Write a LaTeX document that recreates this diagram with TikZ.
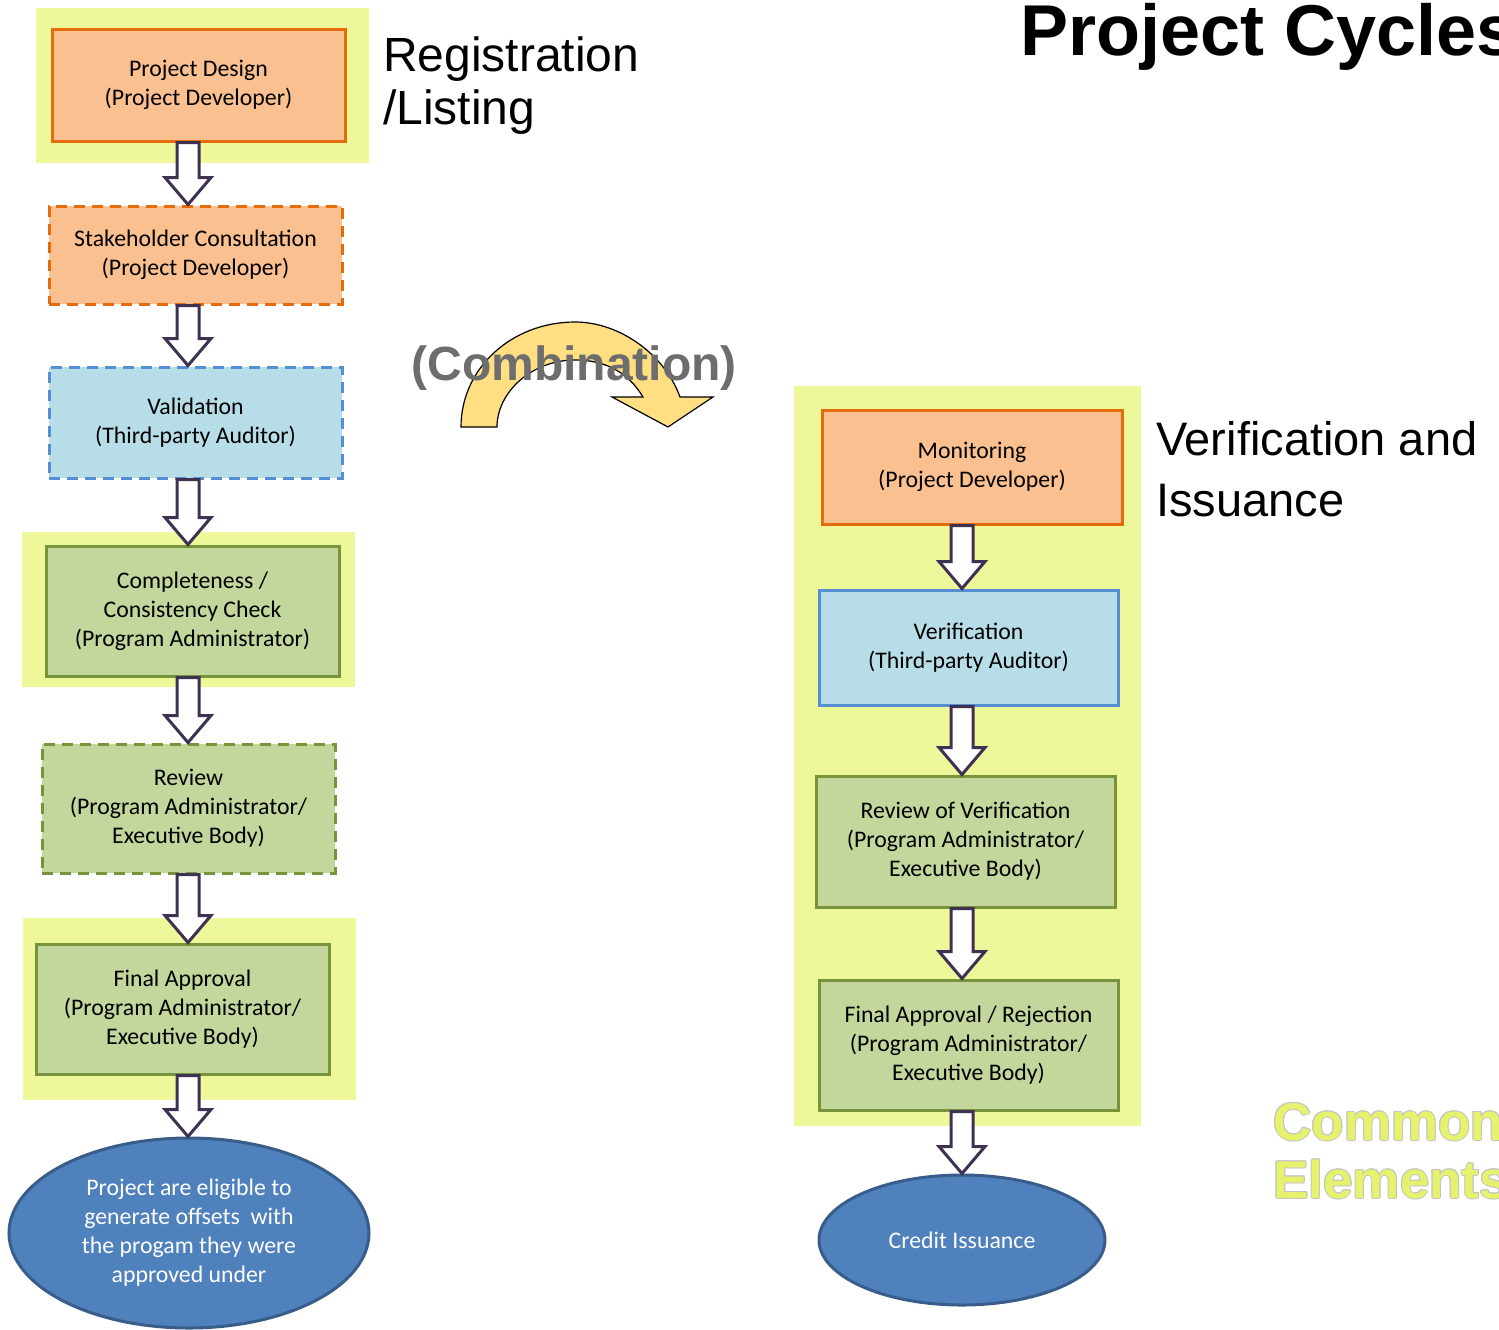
\documentclass[tikz,border=0pt]{standalone}
\usepackage{fontspec}
\setmainfont{Carlito}
\newfontfamily\arialfont{Liberation Sans}
\usetikzlibrary{calc,shapes.geometric}
\definecolor{CycOrange}{HTML}{FAC090}
\definecolor{CycOrangeLine}{HTML}{E46C0A}
\definecolor{CycBlue}{HTML}{B7DDE8}
\definecolor{CycBlueLine}{HTML}{558ED5}
\definecolor{CycGreen}{HTML}{C3D69B}
\definecolor{CycGreenLine}{HTML}{77933C}
\definecolor{CycBand}{HTML}{EEF799}
\definecolor{CycOval}{HTML}{4F81BD}
\definecolor{CycOvalLine}{HTML}{385D8A}
\definecolor{CycArrow}{HTML}{3F3151}
\definecolor{CycGold}{HTML}{FFDF82}
\definecolor{CycGray}{HTML}{6D6D6D}
\definecolor{CycLime}{HTML}{E6F26B}
\definecolor{CycRim}{HTML}{C4C4C4}
\tikzset{
  stagebox/.style={rectangle,line width=1.5pt,align=center,inner sep=2pt,
    font=\fontsize{11.9}{14.5}\selectfont,text=black},
  devbox/.style={stagebox,draw=CycOrangeLine,fill=CycOrange},
  auditbox/.style={stagebox,draw=CycBlueLine,fill=CycBlue},
  adminbox/.style={stagebox,draw=CycGreenLine,fill=CycGreen},
  dashbox/.style={dash pattern=on 5.5pt off 3.5pt},
  outcome/.style={ellipse,draw=CycOvalLine,line width=1.5pt,fill=CycOval,
    inner sep=0pt,align=center,text=white,font=\fontsize{11.9}{14.5}\selectfont},
  blockarr/.style={draw=CycArrow,fill=white,line width=1.5pt,line join=miter},
  phase/.style={anchor=base west,align=left,font=\arialfont\fontsize{24}{26.5}\selectfont}
}
% block arrow from the bottom of #1 to the top of #2, on the axis #3
\newcommand{\blockdown}[3]{%
  \draw[blockarr] ($(#1.south -| #3)+(-11,0)$) -- ($(#2.north -| #3)+(-11,-27)$)
    -- ($(#2.north -| #3)+(-23,-27)$) -- (#2.north -| #3)
    -- ($(#2.north -| #3)+(23,-27)$) -- ($(#2.north -| #3)+(11,-27)$)
    -- ($(#1.south -| #3)+(11,0)$) -- cycle;}

\begin{document}
\begin{tikzpicture}[x=0.5pt,y=-0.5pt]
  \useasboundingbox (0,0) rectangle (1499,1329);
  % highlight bands
  \fill[CycBand] (36,8) rectangle (369,163);
  \fill[CycBand] (22,532) rectangle (355,687);
  \fill[CycBand] (23,918) rectangle (356,1100);
  \fill[CycBand] (794,386) rectangle (1141,1126);
  \coordinate (axL) at (188,0);
  \coordinate (axR) at (962,0);

  % registration / listing
  \node[devbox,minimum width=146.5pt,minimum height=56pt] (design) at (198.5,85)
    {Project Design\\(Project Developer)};
  \node[devbox,dashbox,minimum width=146.5pt,minimum height=49pt] (consult) at (195.5,255)
    {Stakeholder Consultation\\(Project Developer)};
  \node[auditbox,dashbox,minimum width=146.5pt,minimum height=55.5pt] (valid) at (195.5,422.5)
    {Validation\\(Third-party Auditor)};
  \node[adminbox,minimum width=146.5pt,minimum height=65pt] (check) at (192.5,611)
    {Completeness /\\Consistency Check\\(Program Administrator)};
  \node[adminbox,dashbox,minimum width=146.5pt,minimum height=64.5pt] (review) at (188.5,808.5)
    {Review\\(Program Administrator/\\Executive Body)};
  \node[adminbox,minimum width=146.5pt,minimum height=65pt] (approve) at (182.5,1009)
    {Final Approval\\(Program Administrator/\\Executive Body)};
  \node[outcome,minimum width=180pt,minimum height=95pt] (eligible) at (189,1233)
    {Project are eligible to\\generate offsets\ \ with\\the progam they were\\approved under};

  % verification / issuance
  \node[devbox,minimum width=150pt,minimum height=57pt] (monitor) at (972,467)
    {Monitoring\\(Project Developer)};
  \node[auditbox,minimum width=149.5pt,minimum height=57.5pt] (verify) at (968.5,647.5)
    {Verification\\(Third-party Auditor)};
  \node[adminbox,minimum width=149.5pt,minimum height=65.5pt] (vreview) at (965.5,841.5)
    {Review of Verification\\(Program Administrator/\\Executive Body)};
  \node[adminbox,minimum width=149.5pt,minimum height=65pt] (decide) at (968.5,1045)
    {Final Approval / Rejection\\(Program Administrator/\\Executive Body)};
  \node[outcome,minimum width=143pt,minimum height=65pt] (credit) at (962,1240)
    {Credit Issuance};

  \blockdown{design}{consult}{axL}
  \blockdown{consult}{valid}{axL}
  \blockdown{valid}{check}{axL}
  \blockdown{check}{review}{axL}
  \blockdown{review}{approve}{axL}
  \blockdown{approve}{eligible}{axL}
  \blockdown{monitor}{verify}{axR}
  \blockdown{verify}{vreview}{axR}
  \blockdown{vreview}{decide}{axR}
  \blockdown{decide}{credit}{axR}

  % curved arrow
  \filldraw[fill=CycGold,draw=black,line width=0.6pt,line join=miter]
    (461,427) .. controls (461,368) and (512,322) .. (575,322)
    .. controls (620,322) and (665,355) .. (680,397)
    -- (713,397) -- (668,427) -- (612,397) -- (643,397)
    .. controls (628,372) and (605,360) .. (575,360)
    .. controls (532,360) and (497,392) .. (497,427) -- cycle;
  \node[text=CycGray,font=\arialfont\bfseries\fontsize{24}{28}\selectfont] (combo) at (574,368)
    {(Combination)};

  % labels
  \node[phase] (reglabel) at (376,124) {Registration\\/Listing};
  \node[phase,font=\arialfont\fontsize{23.5}{30.5}\selectfont] (verlabel) at (1149,516)
    {Verification and\\Issuance};
  \node[anchor=base west,inner sep=0pt,font=\arialfont\bfseries\fontsize{36}{40}\selectfont]
    (title) at (1020,55) {Project Cycles};
  \foreach \dx/\dy in {-1/0,1/0,0/-1,0/1,-0.7/-0.7,0.7/0.7,-0.7/0.7,0.7/-0.7}
    \node[anchor=base west,inner sep=0pt,align=left,text=CycRim,
      font=\arialfont\bfseries\fontsize{26.5}{29}\selectfont]
      at (1273+\dx,1198+\dy) {Common\\Elements};
  \node[anchor=base west,inner sep=0pt,align=left,text=CycLime,
    font=\arialfont\bfseries\fontsize{26.5}{29}\selectfont]
    (common) at (1273,1198) {Common\\Elements};
\end{tikzpicture}
\end{document}
